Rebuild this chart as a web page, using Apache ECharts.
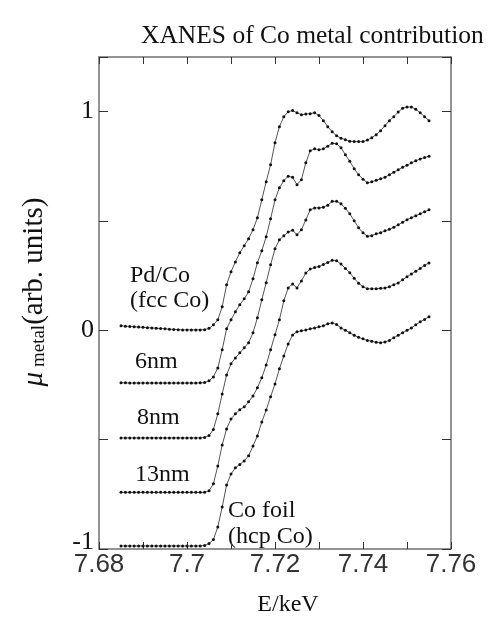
<!DOCTYPE html>
<html>
<head>
<meta charset="utf-8">
<script src="https://cdn.jsdelivr.net/npm/echarts@6/dist/echarts.min.js"></script>
<style>
html,body{margin:0;padding:0;background:#fff}
#main{width:490px;height:618px}
</style>
</head>
<body>
<div id="main"></div>
<script>
// photon energy (keV), shared by all spectra
var energy = [7.685,7.686,7.687,7.688,7.689,7.690,7.691,7.692,7.693,7.694,7.695,7.696,7.697,7.698,7.699,7.700,
  7.701,7.702,7.703,7.704,7.705,7.706,7.707,7.708,7.709,7.710,7.711,7.712,7.713,7.714,7.715,7.716,7.717,7.718,
  7.719,7.720,7.721,7.722,7.723,7.724,7.725,7.726,7.727,7.728,7.729,7.730,7.731,7.732,7.733,7.734,7.735,7.736,
  7.737,7.738,7.739,7.740,7.741,7.742,7.743,7.744,7.745,7.746,7.747,7.748,7.749,7.750,7.751,7.752,7.753,7.754,7.755];

// normalised spectra (before vertical offset)
var pdco = [0.021,0.019,0.018,0.016,0.015,0.014,0.012,0.011,0.010,0.008,0.007,0.005,0.004,0.003,0.002,0.002,0.002,0.002,0.002,0.003,
  0.009,0.025,0.048,0.108,0.208,0.268,0.313,0.355,0.387,0.419,0.460,0.515,0.597,0.680,0.757,0.858,0.931,0.977,1.000,1.005,
  0.995,0.986,0.989,0.991,0.995,0.982,0.959,0.931,0.908,0.890,0.879,0.872,0.865,0.863,0.863,0.863,0.870,0.881,0.895,0.913,
  0.936,0.959,0.977,0.998,1.016,1.021,1.021,1.011,0.995,0.977,0.959];
var nm6 = [0.010,0.010,0.009,0.009,0.009,0.009,0.009,0.009,0.009,0.009,0.009,0.009,0.009,0.009,0.009,0.009,0.009,0.009,0.010,0.011,
  0.019,0.037,0.078,0.161,0.257,0.298,0.335,0.367,0.394,0.426,0.486,0.559,0.614,0.678,0.760,0.847,0.902,0.934,0.955,0.950,
  0.916,0.939,1.016,1.071,1.080,1.076,1.080,1.092,1.106,1.103,1.085,1.053,1.023,0.989,0.962,0.941,0.925,0.929,0.936,0.943,
  0.950,0.962,0.973,0.984,0.996,1.005,1.016,1.025,1.034,1.040,1.046];
var nm8 = [0.008,0.008,0.008,0.008,0.008,0.008,0.008,0.008,0.008,0.008,0.008,0.008,0.008,0.008,0.008,0.008,0.008,0.008,0.008,0.010,
  0.019,0.047,0.118,0.209,0.296,0.347,0.374,0.397,0.420,0.443,0.489,0.557,0.640,0.718,0.800,0.873,0.914,0.932,0.950,0.958,
  0.937,0.960,1.005,1.051,1.060,1.060,1.063,1.072,1.090,1.090,1.079,1.058,1.033,1.001,0.969,0.946,0.930,0.933,0.942,0.946,
  0.955,0.962,0.971,0.983,0.994,1.006,1.015,1.024,1.033,1.042,1.051];
var nm13 = [0.009,0.009,0.009,0.009,0.009,0.009,0.009,0.009,0.009,0.009,0.009,0.009,0.009,0.009,0.009,0.009,0.009,0.009,0.009,0.009,
  0.016,0.048,0.130,0.226,0.299,0.345,0.368,0.387,0.400,0.423,0.450,0.487,0.533,0.592,0.661,0.730,0.798,0.885,0.944,0.962,
  0.944,0.976,1.012,1.030,1.037,1.042,1.051,1.060,1.070,1.068,1.053,1.033,1.013,0.988,0.965,0.949,0.940,0.940,0.940,0.942,
  0.944,0.949,0.958,0.967,0.981,0.995,1.008,1.020,1.033,1.047,1.058];
var foil = [0.014,0.014,0.014,0.014,0.014,0.014,0.014,0.014,0.014,0.014,0.014,0.014,0.014,0.014,0.014,0.014,0.014,0.014,0.014,0.016,
  0.025,0.043,0.101,0.192,0.293,0.343,0.371,0.387,0.403,0.426,0.471,0.517,0.581,0.636,0.696,0.755,0.824,0.883,0.938,0.979,
  0.993,0.998,1.002,1.007,1.011,1.016,1.021,1.030,1.034,1.027,1.011,1.000,0.989,0.977,0.968,0.961,0.954,0.950,0.945,0.943,
  0.947,0.954,0.966,0.977,0.989,1.000,1.011,1.025,1.039,1.050,1.062];

var sampleNames = ['Pd/Co (fcc Co)', '6nm', '8nm', '13nm', 'Co foil (hcp Co)'];
var offsets = [0, -0.25, -0.5, -0.75, -1];
var spectra = [pdco, nm6, nm8, nm13, foil];

var serif = '"Liberation Serif", "Times New Roman", serif';
var sans = '"Liberation Sans", Arial, sans-serif';

var myChart = echarts.init(document.getElementById('main'));

var series = spectra.map(function (s, k) {
  return {
    name: sampleNames[k],
    type: 'line',
    symbol: 'circle',
    symbolSize: 3,
    showSymbol: true,
    animation: false,
    data: s.map(function (v, i) { return [energy[i], v + offsets[k]]; }),
    lineStyle: { color: '#555', width: 1 },
    itemStyle: { color: '#111' }
  };
});

var xTickCommon = {
  type: 'value', min: 7.68, max: 7.76, interval: 0.01,
  axisLine: { onZero: false, lineStyle: { color: '#707070', width: 1.5 } },
  axisTick: { inside: true, length: 7, lineStyle: { color: '#333', width: 1 } },
  splitLine: { show: false }
};
var yTickCommon = {
  type: 'value', min: -1, max: 1.25, interval: 0.5,
  axisLine: { onZero: false, lineStyle: { color: '#707070', width: 1.5 } },
  axisTick: { inside: true, length: 9, lineStyle: { color: '#333', width: 1 } },
  splitLine: { show: false }
};

var option = {
  backgroundColor: '#fff',
  animation: false,
  title: {
    text: 'XANES of Co metal contribution',
    left: 136, top: 18,
    textStyle: { fontFamily: serif, fontSize: 25.5, fontWeight: 'normal', color: '#111' }
  },
  grid: { left: 99, right: 39, top: 57, bottom: 69, outerBoundsMode: 'none' },
  xAxis: [
    Object.assign({}, xTickCommon, {
      position: 'bottom',
      name: 'E/keV', nameLocation: 'middle', nameGap: 44,
      nameTextStyle: { fontFamily: serif, fontSize: 24, color: '#111', padding: [0, 0, 0, 26] },
      axisLabel: {
        margin: 3, fontFamily: sans, fontSize: 26, color: '#333',
        formatter: function (v) {
          var n = Math.round(v * 100);
          return n % 2 === 0 ? String(+(n / 100).toFixed(2)) : '';
        }
      }
    }),
    Object.assign({}, xTickCommon, { position: 'top', axisLabel: { show: false } })
  ],
  yAxis: [
    Object.assign({}, yTickCommon, {
      position: 'left',
      name: '{mu|μ}{sub| metal}{n|(arb. units)}',
      nameLocation: 'middle', nameRotate: 90, nameGap: 50,
      nameTextStyle: {
        color: '#111',
        padding: [0, 0, 0, 22],
        rich: {
          mu: { fontFamily: serif, fontStyle: 'italic', fontSize: 29, color: '#111' },
          sub: { fontFamily: serif, fontSize: 19, color: '#111', verticalAlign: 'bottom', padding: [10, 0, 0, 0] },
          n: { fontFamily: serif, fontSize: 29, color: '#111' }
        }
      },
      axisLabel: {
        margin: 5, fontFamily: serif, fontSize: 26, color: '#111',
        formatter: function (v) {
          if (Math.abs(v - Math.round(v)) > 1e-6) return '';
          return v < -0.5 ? '{low|' + Math.round(v) + '}' : String(Math.round(v));
        },
        rich: { low: { fontFamily: serif, fontSize: 26, color: '#111', padding: [0, 0, 14, 0] } }
      }
    }),
    Object.assign({}, yTickCommon, { position: 'right', axisLabel: { show: false } })
  ],
  graphic: [
    { type: 'text', style: { x: 130, y: 276, text: 'Pd/Co', font: '24px ' + serif, fill: '#111', textVerticalAlign: 'middle' } },
    { type: 'text', style: { x: 130, y: 301, text: '(fcc Co)', font: '24px ' + serif, fill: '#111', textVerticalAlign: 'middle' } },
    { type: 'text', style: { x: 135, y: 362, text: '6nm', font: '24px ' + serif, fill: '#111', textVerticalAlign: 'middle' } },
    { type: 'text', style: { x: 137, y: 418, text: '8nm', font: '24px ' + serif, fill: '#111', textVerticalAlign: 'middle' } },
    { type: 'text', style: { x: 135, y: 475, text: '13nm', font: '24px ' + serif, fill: '#111', textVerticalAlign: 'middle' } },
    { type: 'text', style: { x: 228, y: 511, text: 'Co foil', font: '24px ' + serif, fill: '#111', textVerticalAlign: 'middle' } },
    { type: 'text', style: { x: 228, y: 537, text: '(hcp Co)', font: '24px ' + serif, fill: '#111', textVerticalAlign: 'middle' } }
  ],
  series: series
};

myChart.setOption(option, true);
</script>
</body>
</html>
